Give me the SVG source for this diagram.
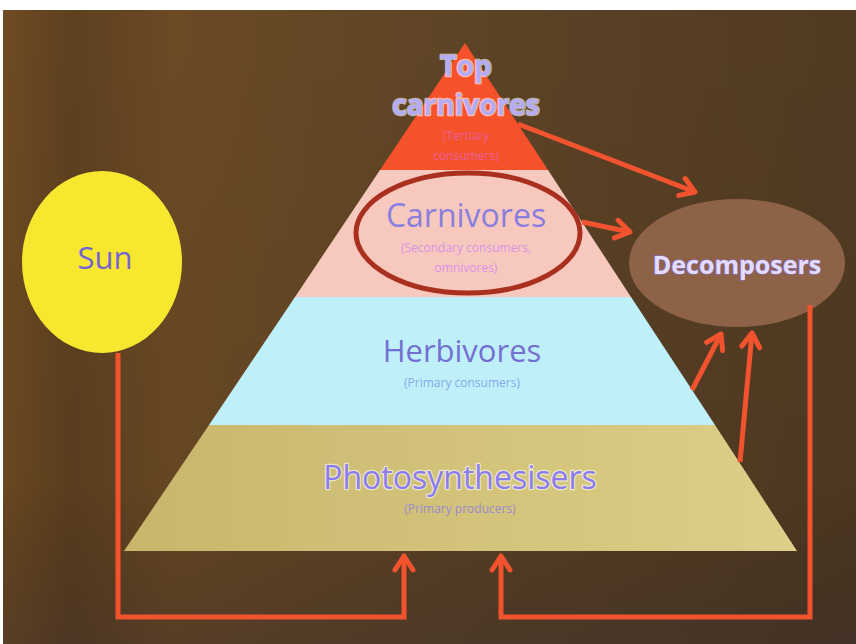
<svg xmlns="http://www.w3.org/2000/svg" width="856" height="644" viewBox="0 0 856 644">
<defs>
<linearGradient id="bg" x1="0" y1="0" x2="1" y2="0">
<stop offset="0" stop-color="#6e4b22"/>
<stop offset="0.08" stop-color="#5e4020"/>
<stop offset="0.2" stop-color="#6b4a24"/>
<stop offset="0.5" stop-color="#5f4426"/>
<stop offset="1" stop-color="#503a22"/>
</linearGradient>
<linearGradient id="bgv" x1="0" y1="0" x2="0" y2="1">
<stop offset="0" stop-color="#000" stop-opacity="0"/>
<stop offset="0.75" stop-color="#000" stop-opacity="0.05"/>
<stop offset="1" stop-color="#1a1a30" stop-opacity="0.25"/>
</linearGradient>
<linearGradient id="khaki" x1="0" y1="0" x2="1" y2="0">
<stop offset="0" stop-color="#c9b66c"/>
<stop offset="1" stop-color="#dccf88"/>
</linearGradient>
<marker id="ah" markerUnits="userSpaceOnUse" markerWidth="24" markerHeight="24" viewBox="0 0 24 24" refX="18" refY="12" orient="auto">
<path d="M4,3 L18,12 L4,21" fill="none" stroke="#f2532f" stroke-width="5" stroke-linecap="round" stroke-linejoin="round"/>
</marker>
<style>
.con{fill:none;stroke:#f2532f;stroke-width:5;stroke-linejoin:miter}
.big{font-family:"Open Sans","Liberation Sans",sans-serif;text-anchor:middle}
.sub{font-family:"Open Sans","Liberation Sans",sans-serif;text-anchor:middle;font-size:12px}
.glow{paint-order:stroke;stroke:#ffffff;stroke-opacity:0.6;stroke-width:2.5px;stroke-linejoin:round}
</style>
</defs>
<rect width="856" height="644" fill="#ffffff"/>
<rect x="3" y="10" width="853" height="634" fill="url(#bg)"/>
<rect x="3" y="10" width="853" height="634" fill="url(#bgv)"/>

<g id="photosynthesisers">
<polygon points="209,425 715,425 797,551 124,551" fill="url(#khaki)"/>
<text class="big glow" x="460" y="489" font-size="32" fill="#8a7cf0">Photosynthesisers</text>
<text class="sub" x="460" y="513" fill="#9a8cd0">(Primary producers)</text>
</g>

<g id="herbivores">
<polygon points="295,297 631,297 715,425 209,425" fill="#bff0fa"/>
<text class="big" x="462" y="362" font-size="31" fill="#7470d2">Herbivores</text>
<text class="sub" x="462" y="387" fill="#86a8ea">(Primary consumers)</text>
</g>

<g id="carnivores">
<polygon points="380,170 548,170 631,297 295,297" fill="#f7c9be"/>
<ellipse cx="468" cy="233" rx="112" ry="60" fill="none" stroke="#a9301f" stroke-width="5"/>
<text class="big" x="466" y="227" font-size="32" fill="#8a7ede">Carnivores</text>
<text class="sub" x="466" y="252" fill="#d892e6">(Secondary consumers,</text>
<text class="sub" x="466" y="272" fill="#d892e6">omnivores)</text>
</g>

<g id="top-carnivores">
<polygon points="465,43 548,170 380,170" fill="#f5512b"/>
<text class="big glow" x="466" y="76" font-size="28" font-weight="bold" fill="#b4acf6">Top</text>
<text class="big glow" x="466" y="115" font-size="28" font-weight="bold" fill="#b4acf6">carnivores</text>
<text class="sub" x="466" y="140" font-size="11" fill="#e8609a">(Tertiary</text>
<text class="sub" x="466" y="160" font-size="11" fill="#e8609a">consumers)</text>
</g>

<g id="sun">
<ellipse cx="102" cy="262" rx="80" ry="91" fill="#f8e72f"/>
<text class="big" x="105" y="269" font-size="31" fill="#7464d6">Sun</text>
</g>

<g id="decomposers">
<ellipse cx="737" cy="263" rx="108" ry="64" fill="#8d6246"/>
<text class="big" x="737" y="274" font-size="25" font-weight="bold" fill="#e4dcfc" stroke="#8a78e0" stroke-width="1.2" paint-order="stroke">Decomposers</text>
</g>

<g id="connectors">
<line class="con" x1="518" y1="124" x2="695" y2="192" marker-end="url(#ah)"/>
<line class="con" x1="582" y1="222" x2="630" y2="232" marker-end="url(#ah)"/>
<line class="con" x1="692" y1="390" x2="721" y2="334" marker-end="url(#ah)"/>
<line class="con" x1="740" y1="462" x2="752" y2="333" marker-end="url(#ah)"/>
<polyline class="con" points="810,305 810,617 501,617 501,556" marker-end="url(#ah)"/>
<polyline class="con" points="118,353 118,617 404,617 404,556" marker-end="url(#ah)"/>
</g>
</svg>
